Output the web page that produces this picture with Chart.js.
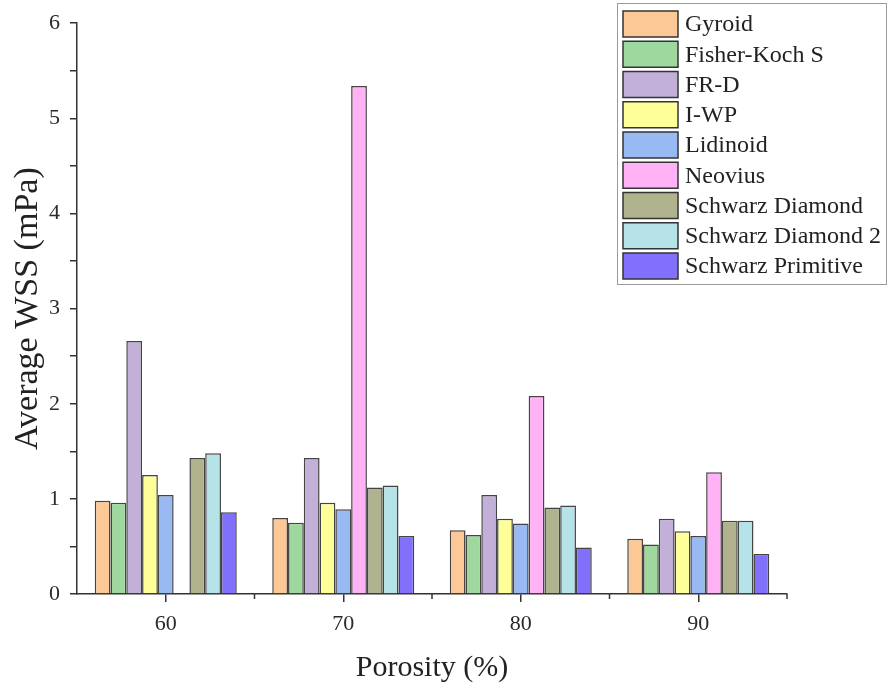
<!DOCTYPE html>
<html>
<head>
<meta charset="utf-8">
<script src="https://cdn.jsdelivr.net/npm/chart.js@4/dist/chart.umd.min.js"></script>
<style>
  html, body { margin: 0; padding: 0; background: #fff; }
  #wrap { width: 889px; height: 690px; position: relative; }
</style>
</head>
<body>
<div id="wrap"><canvas id="c"></canvas></div>
<script>
const porosity = ['60', '70', '80', '90'];

const gyroid = [0.98, 0.80, 0.67, 0.58];
const fisherKoch = [0.96, 0.75, 0.62, 0.52];
const frd = [2.66, 1.43, 1.04, 0.79];
const iwp = [1.25, 0.96, 0.79, 0.66];
const lidinoid = [1.04, 0.89, 0.74, 0.61];
const neovius = [null, 5.34, 2.08, 1.28];
const schwarzD = [1.43, 1.12, 0.91, 0.77];
const schwarzD2 = [1.48, 1.14, 0.93, 0.77];
const schwarzP = [0.86, 0.61, 0.49, 0.42];

const names = ['Gyroid', 'Fisher-Koch S', 'FR-D', 'I-WP', 'Lidinoid', 'Neovius',
  'Schwarz Diamond', 'Schwarz Diamond 2', 'Schwarz Primitive'];
const series = [gyroid, fisherKoch, frd, iwp, lidinoid, neovius, schwarzD, schwarzD2, schwarzP];
const colors = ['#fbc896', '#9fd89f', '#c2b0d8', '#ffff99', '#99b9f2', '#ffb3f5',
  '#b1b38f', '#b5e3e8', '#8170fb'];

const serif = '"Liberation Serif", "Times New Roman", serif';

// legend box drawn inside the plot like the original
const boxLegend = {
  id: 'boxLegend',
  afterDraw(chart) {
    const ctx = chart.ctx;
    ctx.save();
    ctx.fillStyle = '#fff';
    ctx.fillRect(617, 3, 269, 281);
    ctx.strokeStyle = '#9a9a9a';
    ctx.lineWidth = 1;
    ctx.strokeRect(617.5, 3.5, 269, 281);
    ctx.font = '24px ' + serif;
    ctx.textBaseline = 'middle';
    chart.data.datasets.forEach((ds, i) => {
      const y = 11 + i * 30.25;
      ctx.fillStyle = ds.backgroundColor;
      ctx.fillRect(623, y, 55, 26);
      ctx.strokeStyle = '#333';
      ctx.lineWidth = 1.5;
      ctx.strokeRect(623, y, 55, 26);
      ctx.fillStyle = '#222';
      ctx.fillText(ds.label, 685, y + 14);
    });
    ctx.restore();
  }
};

// short ticks at the category boundaries on the x axis
const minorTicks = {
  id: 'minorTicks',
  afterDraw(chart) {
    const x = chart.scales.x;
    const ctx = chart.ctx;
    const w = (x.right - x.left) / porosity.length;
    ctx.save();
    ctx.strokeStyle = '#333';
    ctx.lineWidth = 1.5;
    for (let i = 1; i <= porosity.length; i++) {
      const px = x.left + i * w;
      ctx.beginPath();
      ctx.moveTo(px, x.top);
      ctx.lineTo(px, x.top + 5);
      ctx.stroke();
    }
    ctx.restore();
  }
};

new Chart(document.getElementById('c'), {
  type: 'bar',
  data: {
    labels: porosity,
    datasets: series.map((d, i) => ({
      label: names[i],
      data: d,
      backgroundColor: colors[i],
      borderColor: '#444',
      borderWidth: 1.5,
      categoryPercentage: 0.8,
      barPercentage: 1.0
    }))
  },
  options: {
    responsive: true,
    maintainAspectRatio: false,
    animation: false,
    layout: { padding: { top: 21, right: 102, left: 0, bottom: 0 } },
    plugins: {
      legend: { display: false },
      tooltip: { enabled: false }
    },
    scales: {
      x: {
        afterFit: s => { s.height = 96; },
        grid: { display: true, drawOnChartArea: false, offset: false, tickLength: 8, color: '#333', lineWidth: 1.5 },
        border: { color: '#333', width: 1.5 },
        ticks: { color: '#2a2a2a', font: { family: serif, size: 22 }, padding: 9 },
        title: { display: true, text: 'Porosity (%)', color: '#222', font: { family: serif, size: 30 }, padding: { top: 0, bottom: 4 } }
      },
      y: {
        min: 0,
        max: 6,
        afterFit: s => { s.width = 77; },
        grid: { display: true, drawOnChartArea: false, tickLength: 7, color: '#333', lineWidth: 1.5 },
        border: { color: '#333', width: 1.5 },
        ticks: {
          stepSize: 0.5,
          autoSkip: false,
          color: '#2a2a2a',
          font: { family: serif, size: 22 },
          padding: 10,
          callback: v => (Number.isInteger(v) ? v : '')
        },
        title: { display: true, text: 'Average WSS (mPa)', color: '#222', font: { family: serif, size: 34 }, padding: { top: 8, bottom: 0 } }
      }
    }
  },
  plugins: [boxLegend, minorTicks]
});
</script>
</body>
</html>
